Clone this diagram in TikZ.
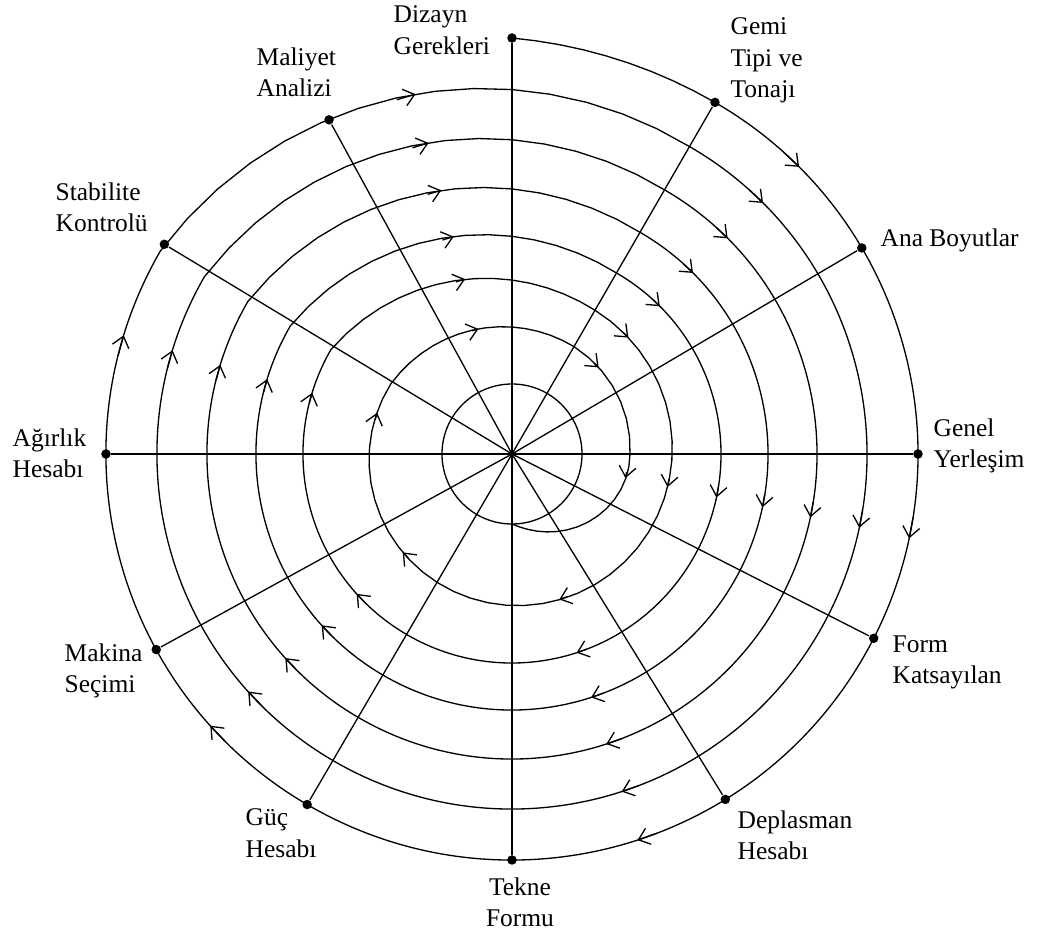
\documentclass[tikz,border=0pt]{standalone}
\usepackage{fontspec}
\setmainfont{Liberation Serif}
\usetikzlibrary{arrows.meta}

\begin{document}
\begin{tikzpicture}[x=0.2mm,y=0.2mm,line width=0.75pt,
  dot/.style={circle,fill,inner sep=0pt,minimum size=1.9mm},
  lbl/.style={align=left,anchor=north west,inner sep=0pt,
              font=\fontsize{14.5}{18}\selectfont},
  arr/.style={-{Straight Barb[length=2.1mm,width=3.4mm]}}]
\useasboundingbox (-512,-483) rectangle (531,454);
\coordinate (o) at (0,0);
% stations on the outer turn
\node[dot] (dizayn)   at (90:416)     {};
\node[dot] (gemi)     at (60:406)     {};
\node[dot] (ana)      at (30.5:406)   {};
\node[dot] (genel)    at (0:406)      {};
\node[dot] (form)     at (-27:406)    {};
\node[dot] (depl)     at (-58.3:406)  {};
\node[dot] (tekne)    at (-90:406)    {};
\node[dot] (guc)      at (-120.3:406) {};
\node[dot] (makina)   at (-151.2:406) {};
\node[dot] (agirlik)  at (180:406)    {};
\node[dot] (stab)     at (148.9:406)  {};
\node[dot] (maliyet)  at (118.7:381)  {};
\foreach \n in {dizayn,gemi,ana,genel,form,depl,tekne,guc,makina,agirlik,stab,maliyet}
  \draw (o) -- (\n);
% the spiral: a turn at fixed radius, then a drop between 150 and 60 degrees
\draw (90:416) -- plot[domain=0:1,samples=10] ({90-30*\x}:{406+10*(1-\x)^2})
  foreach \ra/\rb in {406/355,355/305,305/256,256/209,209/166} {
    arc[start angle=60,end angle=-210,radius=\ra]
    -- plot[domain=0:1,samples=16] ({150-90*\x}:{\ra-(\ra-\rb)*(1.5*\x-0.25*\x^2-0.25*\x^3)})
  }
  -- plot[domain=0:1,samples=40] ({60-270*\x}:{166-26*\x})
  -- plot[domain=0:1,samples=16] ({150-90*\x}:{140-16*(1.5*\x-0.25*\x^2-0.25*\x^3)})
  -- plot[domain=0:1,samples=8] ({60-60*\x}:{124-6*\x})
  -- plot[domain=0:1,samples=16] ({-90*\x}:{118-48*(2*\x^2-\x^3)});
\draw (o) circle (70);
% direction marks
\foreach \a/\r in {45/406,45/355,45/305,45/256,45/209,45/164.6,45/122.5,
    -12/406,-12/355,-12/305,-12/256,-12/209,-12/159,-12/116,
    -72/406,-72/355,-72/305,-72/256,-72/209,-72/153,
    -138/406,-138/355,-138/305,-138/256,-138/209,-138/147,
    163/406,163/355,163/305,163/256,163/209,163/141,
    105/372.5,105/322,105/273,105/225,105/181,105/129.5}
  \draw[arr] (\a+3:\r) -- (\a:\r);
% labels
\node[lbl] (l-dizayn)  at (-119,449) {Dizayn\\Gerekleri};
\node[lbl] (l-gemi)    at (218,437)  {Gemi\\Tipi ve\\Tonajı};
\node[lbl,anchor=west] (l-ana) at (368,214) {Ana Boyutlar};
\node[lbl] (l-genel)   at (421,36)   {Genel\\Yerleşim};
\node[lbl] (l-form)    at (380,-181) {Form\\Katsayılan};
\node[lbl] (l-depl)    at (225,-356) {Deplasman\\Hesabı};
\node[lbl,align=center,anchor=north] (l-tekne) at (8,-423) {Tekne\\Formu};
\node[lbl] (l-guc)     at (-267,-354) {Güç\\Hesabı};
\node[lbl] (l-makina)  at (-448,-189) {Makina\\Seçimi};
\node[lbl] (l-agirlik) at (-500,26)   {Ağırlık\\Hesabı};
\node[lbl] (l-stab)    at (-457,272)  {Stabilite\\Kontrolü};
\node[lbl] (l-maliyet) at (-256,407)  {Maliyet\\Analizi};
\end{tikzpicture}
\end{document}
